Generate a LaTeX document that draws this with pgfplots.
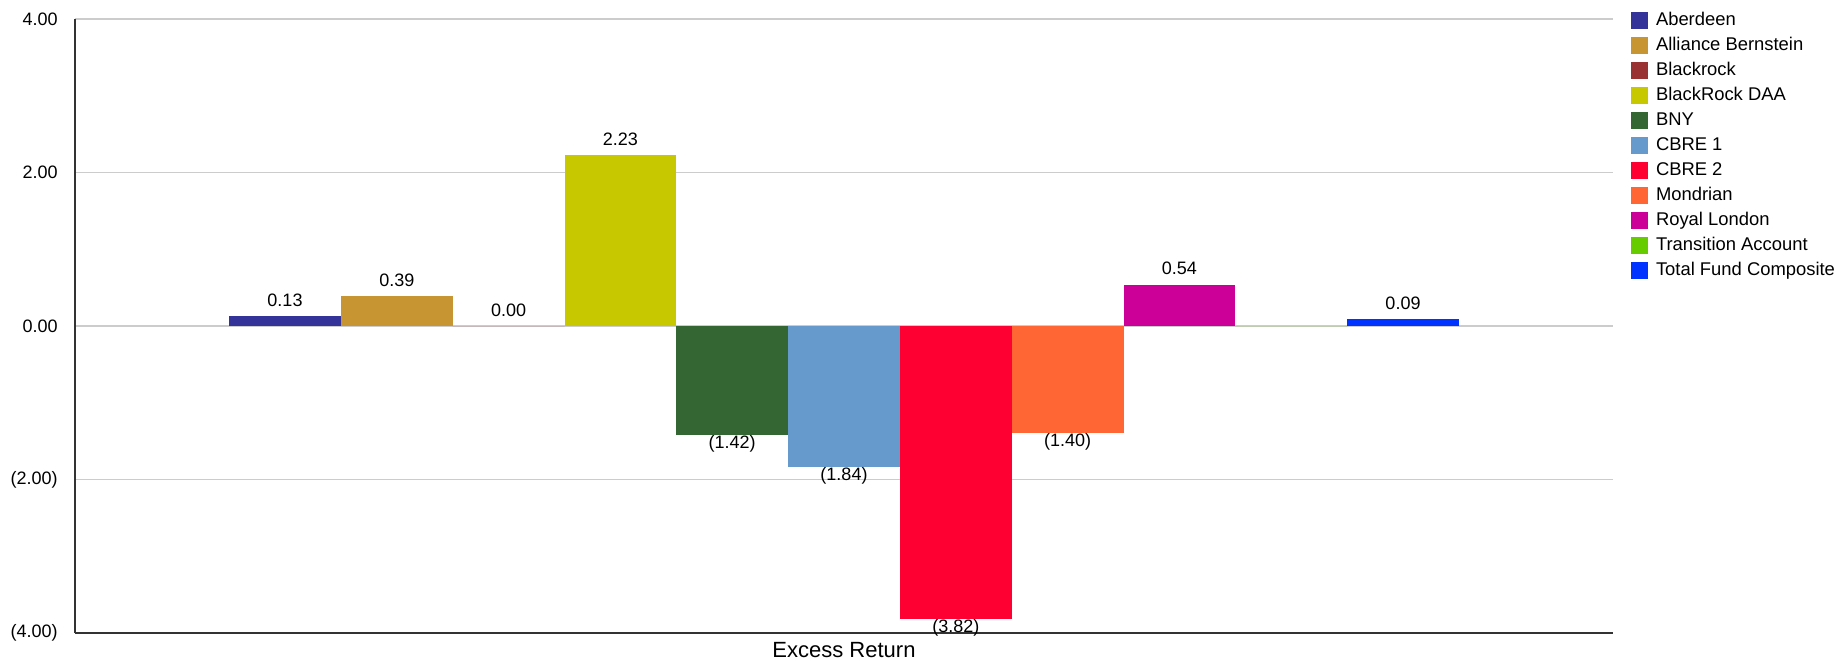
\documentclass[border=0pt]{standalone}
\usepackage{fontspec}
\setmainfont{Liberation Sans}
\usepackage{pgfplots}
\pgfplotsset{compat=1.18}

\definecolor{cAberdeen}{HTML}{333399}
\definecolor{cAlliance}{HTML}{C89533}
\definecolor{cBlackrock}{HTML}{993333}
\definecolor{cDAA}{HTML}{C8C800}
\definecolor{cBNY}{HTML}{336633}
\definecolor{cCBREa}{HTML}{6699CC}
\definecolor{cCBREb}{HTML}{FF0033}
\definecolor{cMondrian}{HTML}{FF6633}
\definecolor{cRoyal}{HTML}{CC0099}
\definecolor{cTransition}{HTML}{66CC00}
\definecolor{cTotal}{HTML}{0033FF}

\begin{document}
\begin{tikzpicture}
\begin{axis}[
    at={(0,0)}, anchor=south west,
    scale only axis,
    width=769pt, height=307pt,
    ybar=0pt, bar width=55.9pt,
    xmin=-1, xmax=1, xtick=\empty,
    ymin=-4, ymax=4,
    ytick={-4,-2,0,2,4},
    yticklabels={(4.00),(2.00),0.00,2.00,4.00},
    axis x line*=bottom, axis y line*=left,
    axis line style={black!80, line width=0.8pt, -},
    major tick length=0pt,
    ymajorgrids,
    grid style={black!20, line width=0.6pt},
    ticklabel style={font=\fontsize{9}{11}\selectfont},
    yticklabel style={inner sep=0pt, xshift=-8.5pt},
    xlabel={Excess Return},
    xlabel style={at={(rel axis cs:0.5,0)}, anchor=north, inner sep=0pt,
        yshift=-4.5pt, font=\fontsize{11}{13}\selectfont},
    point meta=explicit symbolic,
    nodes near coords,
    every node near coord/.append style={font=\fontsize{9}{11}\selectfont, inner sep=0pt},
    pos/.style={every node near coord/.append style={yshift=4.5pt}},
    neg/.style={every node near coord/.append style={yshift=-8.8pt}},
    clip=false,
    legend image code/.code={\fill[#1] (0pt,-4.25pt) rectangle (8.5pt,4.25pt);},
    legend style={at={(rel axis cs:1,1)}, anchor=north west,
        xshift=9pt, yshift=3.5pt,
        draw=none, fill=none, inner sep=0pt, outer sep=0pt,
        font=\fontsize{9.2}{11}\selectfont,
        row sep=4pt,
        nodes={inner sep=0pt, text height=6.5pt, text depth=2pt},
        cells={anchor=west},
        /tikz/every odd column/.append style={column sep=4pt}},
]
\addplot[fill=cAberdeen, draw=none, pos] coordinates {(0,0.13) [0.13]};
\addplot[fill=cAlliance, draw=none, pos] coordinates {(0,0.39) [0.39]};
\addplot[fill=cBlackrock, draw=none, pos] coordinates {(0,0.00) [0.00]};
\addplot[fill=cDAA, draw=none, pos] coordinates {(0,2.23) [2.23]};
\addplot[fill=cBNY, draw=none, neg] coordinates {(0,-1.42) [(1.42)]};
\addplot[fill=cCBREa, draw=none, neg] coordinates {(0,-1.84) [(1.84)]};
\addplot[fill=cCBREb, draw=none, neg] coordinates {(0,-3.82) [(3.82)]};
\addplot[fill=cMondrian, draw=none, neg] coordinates {(0,-1.40) [(1.40)]};
\addplot[fill=cRoyal, draw=none, pos] coordinates {(0,0.54) [0.54]};
\addplot[fill=cTransition, draw=none, nodes near coords={}] coordinates {(0,0) [0]};
\addplot[fill=cTotal, draw=none, pos] coordinates {(0,0.09) [0.09]};
\legend{Aberdeen, Alliance Bernstein, Blackrock, BlackRock DAA, BNY, CBRE 1, CBRE 2, Mondrian, Royal London, Transition Account, Total Fund Composite}
\end{axis}
\pgfresetboundingbox
\path[use as bounding box] (-37.5pt,-13.5pt) rectangle (886pt,316.5pt);
\end{tikzpicture}
\end{document}
